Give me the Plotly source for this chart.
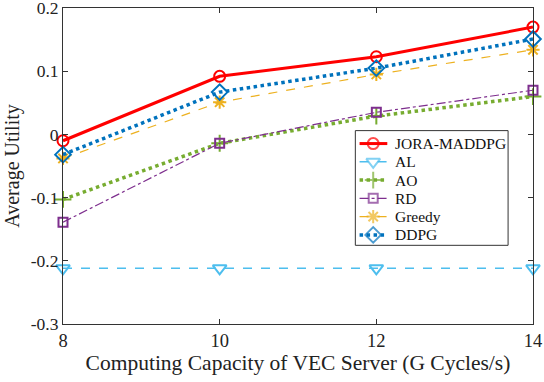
import plotly.graph_objects as go

capacity = [8, 10, 12, 14]

jora = [-0.010, 0.092, 0.123, 0.170]
al = [-0.212, -0.212, -0.212, -0.212]
ao = [-0.103, -0.014, 0.029, 0.060]
rd = [-0.139, -0.014, 0.035, 0.070]
greedy = [-0.038, 0.051, 0.095, 0.134]
ddpg = [-0.032, 0.067, 0.105, 0.151]

series = [
    ("JORA-MADDPG", jora, "rgb(255,0,0)", "solid", 3, "circle-open", 11),
    ("AL", al, "rgb(77,190,238)", "dash", 1.5, "triangle-down-open", 12),
    ("AO", ao, "rgb(119,172,48)", "dot", 3.5, "cross-thin-open", 12),
    ("RD", rd, "rgb(126,47,142)", "dashdot", 1.2, "square-open", 9),
    ("Greedy", greedy, "rgb(237,177,32)", "dash", 1.2, "asterisk-open", 11),
    ("DDPG", ddpg, "rgb(0,114,189)", "dot", 3.5, "diamond-open", 12),
]

FONT = "Liberation Serif, Times New Roman, serif"

fig = go.Figure()
for name, vals, col, dash, w, sym, size in series:
    fig.add_trace(go.Scatter(
        x=capacity, y=vals, name=name, mode="lines+markers", cliponaxis=False,
        line=dict(color=col, dash=dash, width=w),
        marker=dict(symbol=sym, size=size, color=col, line=dict(color=col, width=2)),
    ))

# hand-made legend (MATLAB style, compact rows) on an overlay axis in [0,1]
box_x0, box_x1, box_y0, box_y1 = 0.622, 0.947, 0.249, 0.612
row_step = 0.0578
row_top = 0.571
for i, (name, vals, col, dash, w, sym, size) in enumerate(series):
    ry = row_top - i * row_step
    fig.add_trace(go.Scatter(
        x=[0.631, 0.660, 0.690], y=[ry, ry, ry], xaxis="x2", yaxis="y2",
        mode="lines+markers", showlegend=False, hoverinfo="skip", cliponaxis=False,
        line=dict(color=col, dash=dash, width=w),
        marker=dict(symbol=sym, size=[0, size, 0], color=col,
                    line=dict(color=col, width=2)),
    ))
    fig.add_annotation(x=0.703, y=ry, xref="x2", yref="y2", text=name,
                       showarrow=False, xanchor="left", yanchor="middle",
                       font=dict(family=FONT, size=15.5, color="#111"))
fig.add_shape(type="rect", xref="x2", yref="y2", x0=box_x0, x1=box_x1,
              y0=box_y0, y1=box_y1, line=dict(color="#333", width=1),
              fillcolor="white", layer="below")

axis_common = dict(
    showline=True, linecolor="#333", linewidth=1, mirror="ticks",
    ticks="inside", ticklen=5, tickcolor="#333", showgrid=False, zeroline=False,
    automargin=False, ticklabeloverflow="allow",
)
fig.update_xaxes(range=[8, 14], tickvals=capacity, **axis_common,
                 tickfont=dict(family=FONT, size=18.5, color="#222"),
                 title=dict(text="Computing Capacity of VEC Server (G Cycles/s)",
                            font=dict(family=FONT, size=21.5, color="#222"),
                            standoff=4))
fig.update_yaxes(range=[-0.3002, 0.2002], tickvals=[-0.3, -0.2, -0.1, 0, 0.1, 0.2],
                 ticktext=["-0.3", "-0.2", "-0.1", "0", "0.1", "0.2"], **axis_common,
                 tickfont=dict(family=FONT, size=17.5, color="#222"),
                 title=dict(text="Average Utility",
                            font=dict(family=FONT, size=20, color="#222"),
                            standoff=5))
fig.update_layout(
    width=544, height=382, plot_bgcolor="white", paper_bgcolor="white",
    margin=dict(l=63, r=11, t=8, b=58), showlegend=False,
    xaxis2=dict(overlaying="x", range=[0, 1], visible=False, fixedrange=True),
    yaxis2=dict(overlaying="y", range=[0, 1], visible=False, fixedrange=True),
)
fig.write_html("out.html", config={"displayModeBar": False},
               post_script="document.body.style.margin='0';")
